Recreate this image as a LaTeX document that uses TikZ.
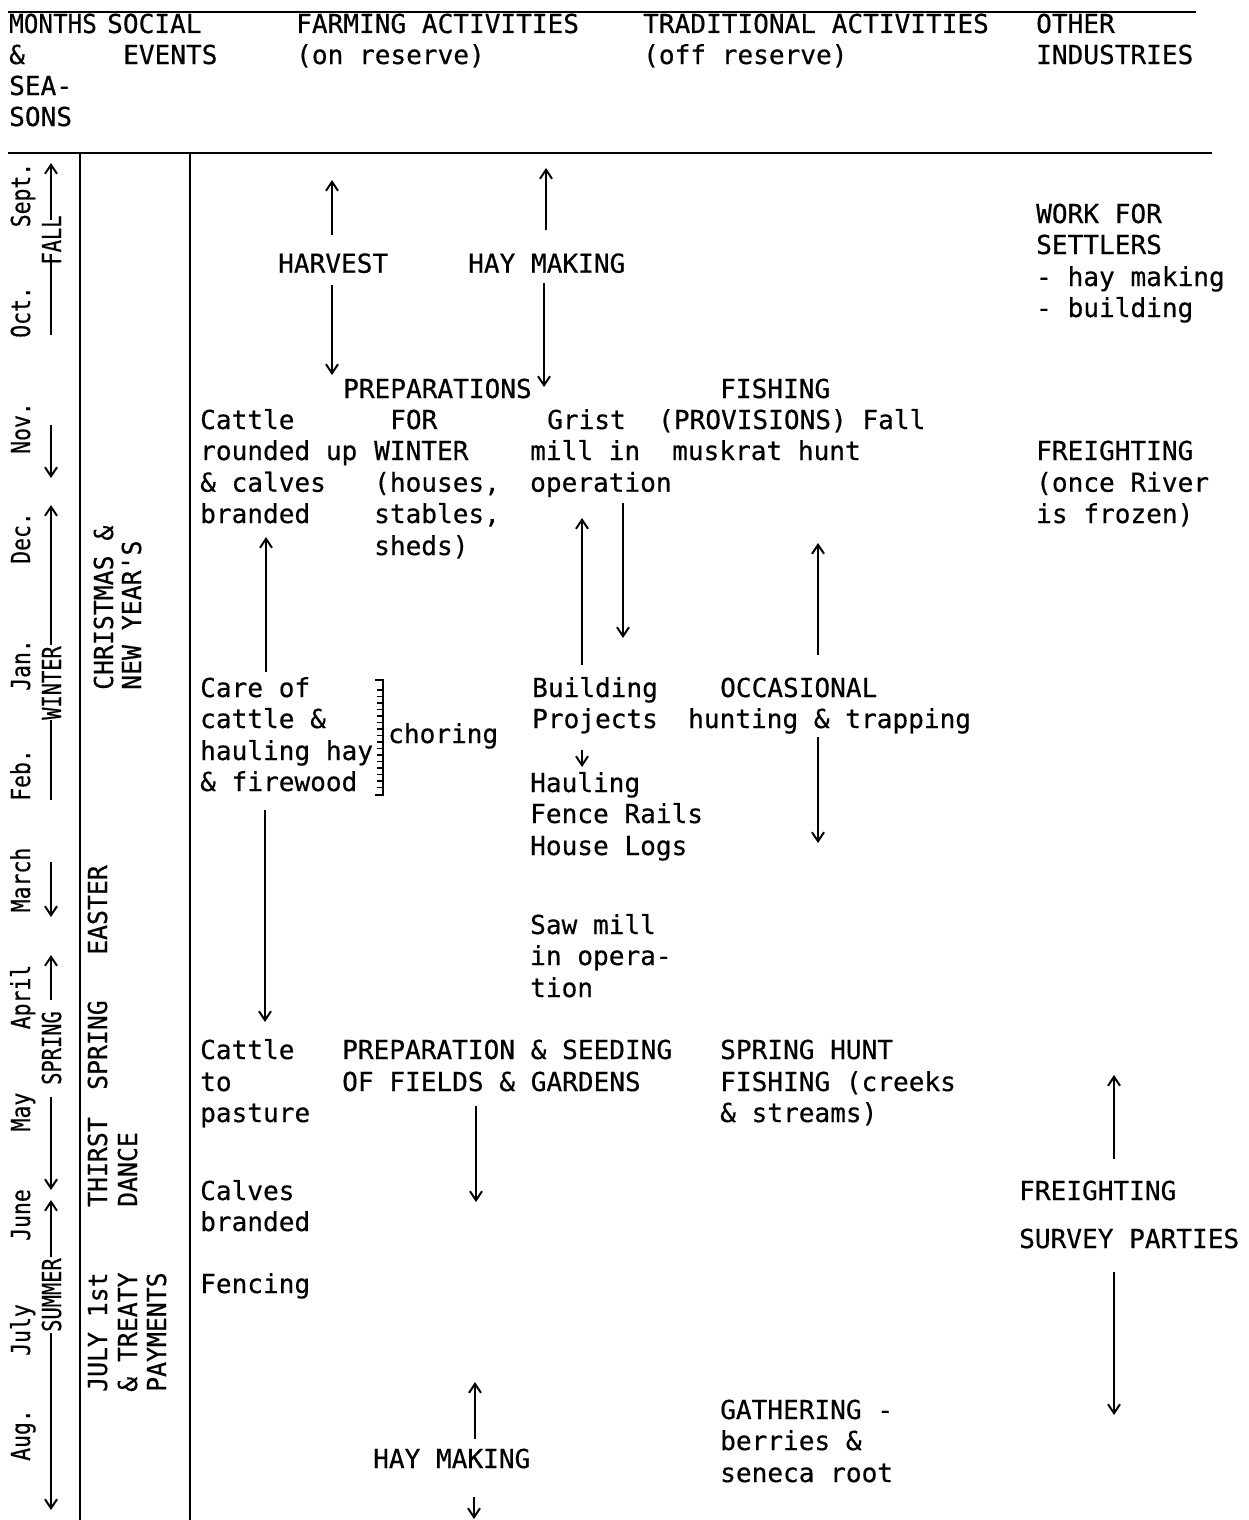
\documentclass[tikz,border=0pt]{standalone}
\usepackage{fontspec}
\usetikzlibrary{arrows.meta}
\newfontfamily\tw[Ligatures=TeXOff,FakeBold=0.5]{DejaVu Sans Mono}
\newfontfamily\twnar[Ligatures=TeXOff,FakeBold=0.5,FakeStretch=0.93]{DejaVu Sans Mono}
\newfontfamily\twmon[Ligatures=TeXOff,FakeBold=0.5,FakeStretch=0.82]{DejaVu Sans Mono}
\newfontfamily\twsea[Ligatures=TeXOff,FakeBold=0.5,FakeStretch=0.78]{DejaVu Sans Mono}
\newfontfamily\twsoc[Ligatures=TeXOff,FakeBold=0.5,FakeStretch=0.95]{DejaVu Sans Mono}
\newcommand\tl[4]{\node[txt] (#1) at (#2,#3) {#4};}
\newcommand\varrow[4]{\coordinate (#1a) at (#2,#3); \coordinate (#1b) at (#2,#4); \draw[arr] (#1a) -- (#1b);}
\newcommand\vseg[4]{\coordinate (#1a) at (#2,#3); \coordinate (#1b) at (#2,#4); \draw[ln] (#1a) -- (#1b);}
\begin{document}
\begin{tikzpicture}[x=1pt,y=-1pt,
  txt/.style={font={\tw\fontsize{26.1pt}{31.4pt}\selectfont}, anchor=base west, inner sep=0pt},
  mon/.style={font={\twmon\fontsize{26.1pt}{31.4pt}\selectfont}, rotate=90, anchor=base, inner sep=0pt},
  sea/.style={font={\twsea\fontsize{26.1pt}{31.4pt}\selectfont}, rotate=90, anchor=base, inner sep=0pt},
  soc/.style={font={\twsoc\fontsize{26.1pt}{31.4pt}\selectfont}, rotate=90, anchor=base west, inner sep=0pt},
  arr/.style={line width=2pt, -{Straight Barb[length=9pt,width=12pt]}},
  ln/.style={line width=2pt},
  rulel/.style={line width=2.4pt}]
\useasboundingbox (0,0) rectangle (1249,1520);
% rules
\coordinate (r1a) at (8,12); \coordinate (r1b) at (1196,12);
\coordinate (r2a) at (8,153); \coordinate (r2b) at (1212,153);
\coordinate (v1a) at (80,153); \coordinate (v1b) at (80,1520);
\coordinate (v2a) at (190,153); \coordinate (v2b) at (190,1520);
\draw[rulel] (r1a) -- (r1b);
\draw[rulel] (r2a) -- (r2b);
\draw[rulel] (v1a) -- (v1b);
\draw[rulel] (v2a) -- (v2b);
% header
\node[txt, font={\twnar\fontsize{26.1pt}{31.4pt}\selectfont}] (h1) at (9,33) {MONTHS};
\tl{h2}{9}{64}{\&}
\tl{h3}{9}{95}{SEA-}
\tl{h4}{9}{126}{SONS}
\tl{h5}{107}{33}{SOCIAL}
\tl{h6}{123}{64}{EVENTS}
\tl{h7}{296}{33}{FARMING ACTIVITIES}
\tl{h8}{296}{64}{(on reserve)}
\tl{h9}{643}{33}{TRADITIONAL ACTIVITIES}
\tl{h10}{643}{64}{(off reserve)}
\tl{h11}{1036}{33}{OTHER}
\tl{h12}{1036}{64}{INDUSTRIES}
% months
\node[mon] (m1) at (30,195) {Sept.};
\node[mon] (m2) at (30,312) {Oct.};
\node[mon] (m3) at (30,428) {Nov.};
\node[mon] (m4) at (30,538) {Dec.};
\node[mon] (m5) at (30,665) {Jan.};
\node[mon] (m6) at (30,775) {Feb.};
\node[mon] (m7) at (30,880) {March};
\node[mon] (m8) at (30,997) {April};
\node[mon] (m9) at (30,1112) {May};
\node[mon] (m10) at (30,1215) {June};
\node[mon] (m11) at (30,1330) {July};
\node[mon] (m12) at (30,1435) {Aug.};
% seasons
\node[sea] (s1) at (61,240) {FALL};
\node[sea] (s2) at (61,683) {WINTER};
\node[sea] (s3) at (61,1048) {SPRING};
\node[sea] (s4) at (61,1295) {SUMMER};
\varrow{sa1}{51}{220}{163}
\vseg{sl1}{51}{262}{335}
\varrow{sa2}{51}{425}{478}
\varrow{sa3}{51}{645}{505}
\vseg{sl2}{51}{720}{800}
\varrow{sa4}{51}{862}{917}
\varrow{sa5}{51}{1000}{955}
\varrow{sa6}{51}{1097}{1190}
\varrow{sa7}{51}{1257}{1200}
\varrow{sa8}{51}{1333}{1510}
% social events
\node[soc] (e1) at (113,690) {CHRISTMAS \&};
\node[soc] (e2) at (141,690) {NEW YEAR'S};
\node[soc] (e3) at (107,955) {EASTER};
\node[soc] (e4) at (107,1090) {SPRING};
\node[soc] (e5) at (107,1207) {THIRST};
\node[soc] (e6) at (137,1207) {DANCE};
\node[soc] (e7) at (107,1392) {JULY 1st};
\node[soc] (e8) at (137,1392) {\& TREATY};
\node[soc] (e9) at (166,1392) {PAYMENTS};
% farming / traditional
\tl{t1}{278}{272.7}{HARVEST}
\tl{t2}{468}{272.7}{HAY MAKING}
\tl{t3}{343}{398}{PREPARATIONS}
\tl{t4}{720}{398}{FISHING}
\tl{t5}{200}{429}{Cattle}
\tl{t6}{390}{429}{FOR}
\tl{t7}{547}{429}{Grist}
\tl{t8}{658}{429}{(PROVISIONS) Fall}
\tl{t9}{200}{460}{rounded up}
\tl{t10}{374}{460}{WINTER}
\tl{t11}{530}{460}{mill in}
\tl{t12}{672}{460}{muskrat hunt}
\tl{t13}{200}{491.7}{\& calves}
\tl{t14}{374}{491.7}{(houses,}
\tl{t15}{530}{491.7}{operation}
\tl{t16}{200}{523}{branded}
\tl{t17}{374}{523}{stables,}
\tl{t18}{374}{555}{sheds)}
\tl{t19}{200}{697}{Care of}
\tl{t20}{200}{728}{cattle \&}
\tl{t21}{200}{760}{hauling hay}
\tl{t22}{200}{791}{\& firewood}
\tl{t23}{388}{743}{choring}
\tl{t24}{532}{697}{Building}
\tl{t25}{532}{728}{Projects}
\tl{t26}{720}{697}{OCCASIONAL}
\tl{t27}{688}{728}{hunting \& trapping}
\tl{t28}{530}{792}{Hauling}
\tl{t29}{530}{823}{Fence Rails}
\tl{t30}{530}{855}{House Logs}
\tl{t31}{530}{934}{Saw mill}
\tl{t32}{530}{965}{in opera-}
\tl{t33}{530}{997}{tion}
\tl{t34}{200}{1059}{Cattle}
\tl{t35}{200}{1091}{to}
\tl{t36}{200}{1122}{pasture}
\tl{t37}{342}{1059}{PREPARATION \& SEEDING}
\tl{t38}{342}{1091}{OF FIELDS \& GARDENS}
\tl{t39}{720}{1059}{SPRING HUNT}
\tl{t40}{720}{1091}{FISHING (creeks}
\tl{t41}{720}{1122}{\& streams)}
\tl{t42}{200}{1200}{Calves}
\tl{t43}{200}{1231}{branded}
\tl{t44}{200}{1293}{Fencing}
\tl{t45}{373}{1468}{HAY MAKING}
\tl{t46}{720}{1419}{GATHERING -}
\tl{t47}{720}{1450}{berries \&}
\tl{t48}{720}{1482}{seneca root}
% other industries
\tl{o1}{1036}{223}{WORK FOR}
\tl{o2}{1036}{254}{SETTLERS}
\tl{o3}{1036}{286}{- hay making}
\tl{o4}{1036}{317}{- building}
\tl{o5}{1036}{460}{FREIGHTING}
\tl{o6}{1036}{491.7}{(once River}
\tl{o7}{1036}{523}{is frozen)}
\tl{o8}{1019}{1200}{FREIGHTING}
\tl{o9}{1019}{1248}{SURVEY PARTIES}
% choring bracket
\draw[ln] (375,680) -- (383,680) -- (383,795) -- (375,795);
\foreach \yy in {690,696.5,...,788} {\draw[line width=1.3pt] (377,\yy) -- (383,\yy);}
% arrows
\varrow{a1}{332}{235}{180}
\varrow{a2}{332}{285}{375}
\varrow{a3}{546}{230}{168}
\varrow{a4}{544}{283}{387}
\varrow{a5}{266}{672}{537}
\varrow{a6}{265}{810}{1022}
\varrow{a7}{582}{665}{518}
\varrow{a8}{623}{503}{638}
\varrow{a9}{818}{655}{543}
\varrow{a10}{818}{737}{843}
\varrow{a11}{582}{750}{767}
\varrow{a12}{476}{1106}{1202}
\varrow{a13}{475}{1439}{1382}
\varrow{a14}{474}{1497}{1519}
\varrow{a15}{1114}{1159}{1075}
\varrow{a16}{1114}{1272}{1415}
\end{tikzpicture}
\end{document}
